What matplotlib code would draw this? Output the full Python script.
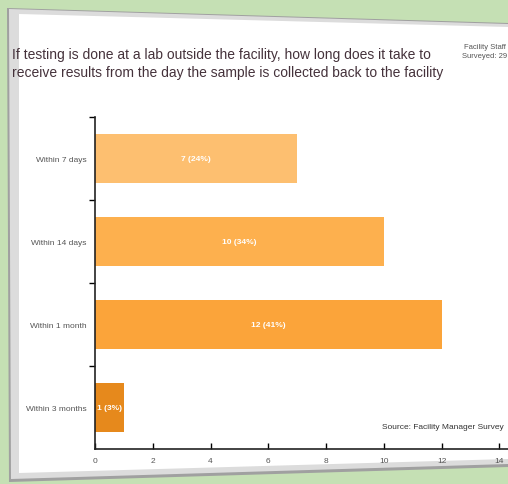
import matplotlib.pyplot as plt
from matplotlib.patches import Polygon

# Datos de la encuesta
categorias = ['Within 7 days', 'Within 14 days', 'Within 1 month', 'Within 3 months']
conteos = [7, 10, 12, 1]
porcentajes = [24, 34, 41, 3]
colores = ['#fdbf70', '#fdb04e', '#fba43a', '#e6891c']
ticks_x = [0, 2, 4, 6, 8, 10, 12, 14]

titulo = ('If testing is done at a lab outside the facility, how long does it take to\n'
          'receive results from the day the sample is collected back to the facility')

plt.rcParams['font.family'] = ['Liberation Sans', 'DejaVu Sans']

W, H = 508, 485
fig = plt.figure(figsize=(W / 100, H / 100), dpi=100, facecolor='#c5e0b4')


def px(x, y):
    """Pasa pixeles (origen arriba-izquierda) a fraccion de figura"""
    return (x / W, 1 - y / H)


# Sombra y diapositiva blanca
sombra = Polygon([px(7, 9), px(508, 24), px(508, 468), px(9, 483)],
                 closed=True, transform=fig.transFigure,
                 facecolor='#a0a0a0', edgecolor='none', zorder=0)
borde = Polygon([px(9, 10), px(508, 25), px(508, 465), px(11, 480)],
                closed=True, transform=fig.transFigure,
                facecolor='#dcdcdc', edgecolor='none', zorder=0)
diapo = Polygon([px(19, 15), px(508, 28), px(508, 460), px(19, 474)],
                closed=True, transform=fig.transFigure,
                facecolor='white', edgecolor='none', zorder=0)
for p in (sombra, borde, diapo):
    fig.patches.append(p)

ax = fig.add_axes([95 / W, 1 - 450 / H, (W - 95) / W, 332 / H], zorder=2)
ax.set_facecolor('none')

pos = list(range(len(categorias)))
ax.barh(pos, conteos, height=0.6, color=colores, edgecolor='none')

for i, (c, p) in enumerate(zip(conteos, porcentajes)):
    ax.text(c / 2, i, f'{c} ({p}%)', ha='center', va='center',
            color='white', fontsize=6, fontweight='bold')

ax.set_ylim(3.5, -0.5)
ax.set_xlim(0, 14.3)
ax.set_yticks(pos)
ax.set_yticklabels(categorias, fontsize=6, color='#555555')
ax.set_yticks([-0.5, 0.5, 1.5, 2.5], minor=True)
ax.tick_params(axis='y', which='major', length=0, pad=6)
ax.tick_params(axis='y', which='minor', length=4, width=1, direction='out')

ax.set_xticks(ticks_x)
ax.set_xticklabels([str(t) for t in ticks_x], fontsize=6, color='#555555')
ax.tick_params(axis='x', length=4, width=1, direction='in', pad=6)

for lado in ['top', 'right']:
    ax.spines[lado].set_visible(False)
for lado in ['left', 'bottom']:
    ax.spines[lado].set_linewidth(1.2)
    ax.spines[lado].set_color('#222222')

fig.text(12 / W, 1 - 64 / H, titulo, ha='left', va='center',
         fontsize=10, color='#45323b', linespacing=1.45, zorder=3)
fig.text(485 / W, 1 - 52 / H, 'Facility Staff\nSurveyed: 29', ha='center',
         va='center', fontsize=5.5, color='#555555', linespacing=1.3, zorder=3)
fig.text(504 / W, 1 - 428 / H, 'Source: Facility Manager Survey',
         ha='right', va='center', fontsize=6, color='#333333', zorder=3)

plt.savefig('out.png', dpi=100)
